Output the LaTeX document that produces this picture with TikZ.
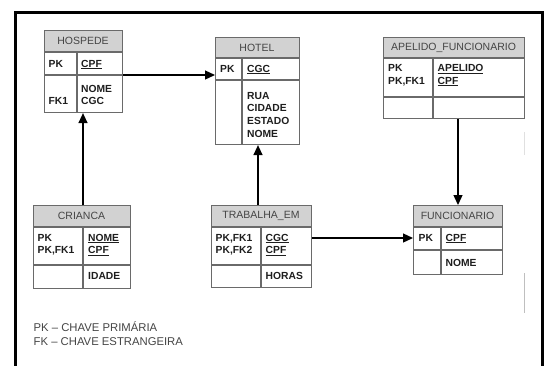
\documentclass[tikz,border=0pt]{standalone}
\usepackage{fontspec}
\setmainfont{Liberation Sans}
\usetikzlibrary{calc,arrows.meta}
\definecolor{lg}{HTML}{6A6A6A}
\definecolor{hg}{HTML}{D2D2D2}
\definecolor{tg}{HTML}{444444}
\definecolor{bt}{HTML}{1E1E1E}
\newcommand\keyu[1]{\leavevmode\vtop{\hbox{#1}\kern1.3pt\hrule height 0.9pt}}
\tikzset{
 tbl/.style={draw=lg,line width=1.1pt,inner sep=0pt,anchor=north west},
 sep/.style={draw=lg,line width=1.1pt},
 hfill/.style={fill=hg},
 htxt/.style={text=tg,font=\fontsize{10.5}{12}\selectfont,inner sep=0pt},
 ftxt/.style={text=bt,font=\bfseries\fontsize{10.3}{12}\selectfont,inner sep=0pt,anchor=base west},
 legend/.style={text=tg,font=\fontsize{11.3}{13}\selectfont,inner sep=0pt,anchor=base west},
 arr/.style={draw=black,line width=1.3pt,-{Triangle[length=10pt,width=9pt]}},
}
\begin{document}
\begin{tikzpicture}[x=1pt,y=-1pt]
\useasboundingbox (0,0) rectangle (547,365);
\draw[line width=3pt] (15.5,366) -- (15.5,12.5) -- (542.5,12.5) -- (542.5,366);
% faint scan artefacts
\draw[black!12,line width=0.8pt] (524,132) -- (524,155);
\draw[black!25,line width=0.8pt] (524,273) -- (524,313);

% HOSPEDE
\fill[hfill] (44,30) rectangle (122,52);
\node[tbl,minimum width=78pt,minimum height=82pt] (hospede) at (44,30) {};
\draw[sep] (44,52) -- (122,52) (44,75) -- (122,75) (77,52) -- (77,112);
\node[htxt] (hospedeT) at (83,41) {HOSPEDE};
\node[ftxt] (hospedeA) at (48.5,67) {PK};
\node[ftxt] (hospedeB) at (81,67) {\keyu{CPF}};
\node[ftxt] (hospedeC) at (81,92) {NOME};
\node[ftxt] (hospedeD) at (81,104.5) {CGC};
\node[ftxt] (hospedeE) at (48.5,104.5) {FK1};

% HOTEL
\fill[hfill] (215,37) rectangle (299,58);
\node[tbl,minimum width=84pt,minimum height=107pt] (hotel) at (215,37) {};
\draw[sep] (215,58) -- (299,58) (215,80) -- (299,80) (242,58) -- (242,144);
\node[htxt] (hotelT) at (257,48) {HOTEL};
\node[ftxt] (hotelA) at (220,72) {PK};
\node[ftxt] (hotelB) at (247,72) {\keyu{CGC}};
\node[ftxt] (hotelC) at (247,99) {RUA};
\node[ftxt] (hotelD) at (247,111.7) {CIDADE};
\node[ftxt] (hotelE) at (247,124.4) {ESTADO};
\node[ftxt] (hotelF) at (247,137.1) {NOME};

% APELIDO_FUNCIONARIO
\fill[hfill] (383,37) rectangle (524,58);
\node[tbl,minimum width=141pt,minimum height=81pt] (apel) at (383,37) {};
\draw[sep] (383,58) -- (524,58) (383,97) -- (524,97) (433,58) -- (433,118);
\node[htxt] (apelT) at (453.5,48) {APELIDO\_FUNCIONARIO};
\node[ftxt] (apelA) at (388,71.3) {PK};
\node[ftxt] (apelB) at (388,84) {PK,FK1};
\node[ftxt] (apelC) at (437.5,71.3) {\keyu{APELIDO}};
\node[ftxt] (apelD) at (437.5,84) {\keyu{CPF}};

% CRIANCA
\fill[hfill] (33,205) rectangle (130,227);
\node[tbl,minimum width=97pt,minimum height=83pt] (crianca) at (33,205) {};
\draw[sep] (33,227) -- (130,227) (33,265) -- (130,265) (83,227) -- (83,288);
\node[htxt] (criancaT) at (81.5,216) {CRIANCA};
\node[ftxt] (criancaA) at (37.5,241) {PK};
\node[ftxt] (criancaB) at (37.5,253.7) {PK,FK1};
\node[ftxt] (criancaC) at (88,241) {\keyu{NOME}};
\node[ftxt] (criancaD) at (88,253.7) {\keyu{CPF}};
\node[ftxt] (criancaE) at (88,279.5) {IDADE};

% TRABALHA_EM
\fill[hfill] (211,205) rectangle (311,227);
\node[tbl,minimum width=100pt,minimum height=82pt] (trab) at (211,205) {};
\draw[sep] (211,227) -- (311,227) (211,265) -- (311,265) (261,227) -- (261,287);
\node[htxt] (trabT) at (261,216) {TRABALHA\_EM};
\node[ftxt] (trabA) at (215.5,241) {PK,FK1};
\node[ftxt] (trabB) at (215.5,253.7) {PK,FK2};
\node[ftxt] (trabC) at (265.5,241) {\keyu{CGC}};
\node[ftxt] (trabD) at (265.5,253.7) {\keyu{CPF}};
\node[ftxt] (trabE) at (265.5,279) {HORAS};

% FUNCIONARIO
\fill[hfill] (413,205) rectangle (502,227);
\node[tbl,minimum width=89pt,minimum height=69pt] (func) at (413,205) {};
\draw[sep] (413,227) -- (502,227) (413,250) -- (502,250) (441,227) -- (441,274);
\node[htxt] (funcT) at (457.5,216) {FUNCIONARIO};
\node[ftxt] (funcA) at (418.5,241) {PK};
\node[ftxt] (funcB) at (445.5,241) {\keyu{CPF}};
\node[ftxt] (funcC) at (445.5,266) {NOME};

% connectors
\draw[arr] ([yshift=-45pt]hospede.north east) coordinate (a1) -- (a1 -| hotel.west);
\draw[arr] ([xshift=50pt]crianca.north west) coordinate (a2) -- (a2 |- hospede.south);
\draw[arr] ([xshift=47pt]trab.north west) coordinate (a3) -- (a3 |- hotel.south);
\draw[arr] ([yshift=-33pt]trab.north east) coordinate (a4) -- (a4 -| func.west);
\draw[arr] ([xshift=75pt]apel.south west) coordinate (a5) -- (a5 |- func.north);

% legend
\node[legend] (leg1) at (33.5,331.8) {PK -- CHAVE PRIMÁRIA};
\node[legend] (leg2) at (33.5,345.8) {FK -- CHAVE ESTRANGEIRA};
\end{tikzpicture}
\end{document}
